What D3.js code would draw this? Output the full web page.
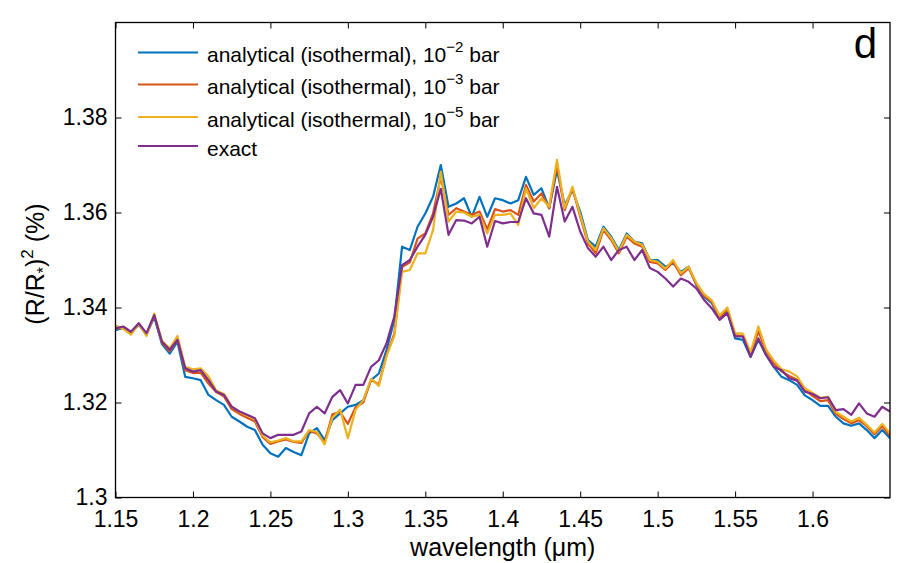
<!DOCTYPE html>
<html><head><meta charset="utf-8">
<script src="https://cdn.jsdelivr.net/npm/d3@7/dist/d3.min.js"></script>
<style>
html,body{margin:0;padding:0;background:#fff;}
svg text{font-family:"Liberation Sans",Arial,Helvetica,sans-serif;fill:#000;}
</style></head>
<body><svg id="c" width="905" height="563"></svg>
<script>
const wavelength = [1.150,1.155,1.160,1.165,1.170,1.175,1.180,1.185,1.190,1.195,1.200,1.205,1.210,1.215,1.220,1.225,1.230,1.235,1.240,1.245,1.250,1.255,1.260,1.265,1.270,
1.275,1.280,1.285,1.290,1.295,1.300,1.305,1.310,1.315,1.320,1.325,1.330,1.335,1.340,1.345,1.350,1.355,1.360,1.365,1.370,1.375,1.380,1.385,1.390,1.395,
1.400,1.405,1.410,1.415,1.420,1.425,1.430,1.435,1.440,1.445,1.450,1.455,1.460,1.465,1.470,1.475,1.480,1.485,1.490,1.495,1.500,1.505,1.510,1.515,1.520,
1.525,1.530,1.535,1.540,1.545,1.550,1.555,1.560,1.565,1.570,1.575,1.580,1.585,1.590,1.595,1.600,1.605,1.610,1.615,1.620,1.625,1.630,1.635,1.640,1.645,1.650];

const iso2bar = [1.3352,1.3357,1.3346,1.3364,1.3343,1.3380,1.3323,1.3303,1.3328,1.3254,1.3251,1.3247,1.3216,1.3205,1.3195,1.3170,1.3160,1.3149,1.3142,1.3111,1.3093,1.3086,1.3104,1.3096,1.3089,
1.3135,1.3146,1.3121,1.3163,1.3177,1.3191,1.3195,1.3205,1.3247,1.3261,1.3311,1.3374,1.3528,1.3521,1.3570,1.3598,1.3633,1.3700,1.3612,1.3619,1.3630,1.3591,1.3633,1.3591,1.3630,
1.3626,1.3619,1.3626,1.3675,1.3637,1.3651,1.3609,1.3689,1.3616,1.3647,1.3602,1.3542,1.3528,1.3570,1.3549,1.3521,1.3556,1.3539,1.3535,1.3500,1.3500,1.3486,1.3493,1.3475,1.3486,
1.3447,1.3423,1.3409,1.3377,1.3391,1.3335,1.3332,1.3296,1.3332,1.3300,1.3275,1.3254,1.3247,1.3237,1.3215,1.3205,1.3193,1.3193,1.3170,1.3156,1.3151,1.3156,1.3142,1.3125,1.3142,1.3125];

const iso3bar = [1.3355,1.3358,1.3346,1.3365,1.3344,1.3383,1.3326,1.3308,1.3333,1.3268,1.3262,1.3263,1.3240,1.3222,1.3213,1.3186,1.3176,1.3168,1.3160,1.3127,1.3113,1.3118,1.3122,1.3117,1.3115,
1.3140,1.3135,1.3115,1.3175,1.3180,1.3155,1.3190,1.3200,1.3248,1.3238,1.3300,1.3345,1.3485,1.3495,1.3545,1.3556,1.3598,1.3675,1.3595,1.3609,1.3602,1.3595,1.3602,1.3565,1.3607,
1.3602,1.3605,1.3595,1.3658,1.3623,1.3640,1.3609,1.3700,1.3605,1.3651,1.3591,1.3535,1.3514,1.3563,1.3542,1.3514,1.3549,1.3535,1.3528,1.3496,1.3493,1.3479,1.3496,1.3468,1.3483,
1.3449,1.3425,1.3412,1.3380,1.3396,1.3342,1.3340,1.3302,1.3350,1.3309,1.3283,1.3265,1.3256,1.3248,1.3226,1.3214,1.3203,1.3205,1.3176,1.3165,1.3156,1.3163,1.3150,1.3133,1.3150,1.3130];

const iso5bar = [1.3362,1.3355,1.3343,1.3366,1.3340,1.3387,1.3330,1.3314,1.3340,1.3275,1.3270,1.3272,1.3255,1.3225,1.3218,1.3192,1.3180,1.3172,1.3165,1.3130,1.3116,1.3120,1.3125,1.3118,1.3118,
1.3142,1.3138,1.3112,1.3168,1.3185,1.3125,1.3185,1.3205,1.3250,1.3235,1.3298,1.3340,1.3475,1.3479,1.3514,1.3514,1.3563,1.3686,1.3581,1.3602,1.3600,1.3591,1.3595,1.3556,1.3595,
1.3595,1.3598,1.3574,1.3651,1.3609,1.3630,1.3612,1.3711,1.3609,1.3654,1.3595,1.3539,1.3521,1.3567,1.3546,1.3518,1.3553,1.3539,1.3532,1.3500,1.3496,1.3482,1.3500,1.3472,1.3486,
1.3452,1.3428,1.3415,1.3383,1.3400,1.3346,1.3345,1.3306,1.3360,1.3312,1.3288,1.3270,1.3265,1.3255,1.3230,1.3220,1.3210,1.3212,1.3180,1.3170,1.3160,1.3168,1.3153,1.3137,1.3155,1.3135];

const exact = [1.3356,1.3360,1.3349,1.3367,1.3346,1.3384,1.3328,1.3311,1.3332,1.3272,1.3265,1.3268,1.3247,1.3223,1.3216,1.3191,1.3181,1.3174,1.3167,1.3135,1.3125,1.3132,1.3132,1.3132,1.3139,
1.3177,1.3191,1.3177,1.3212,1.3226,1.3198,1.3237,1.3237,1.3275,1.3289,1.3325,1.3381,1.3489,1.3500,1.3528,1.3553,1.3591,1.3650,1.3553,1.3584,1.3583,1.3577,1.3591,1.3528,1.3582,
1.3577,1.3580,1.3580,1.3630,1.3598,1.3595,1.3549,1.3654,1.3581,1.3612,1.3560,1.3525,1.3507,1.3528,1.3500,1.3521,1.3528,1.3500,1.3521,1.3483,1.3475,1.3461,1.3444,1.3461,1.3454,
1.3440,1.3416,1.3398,1.3374,1.3388,1.3339,1.3339,1.3296,1.3335,1.3300,1.3275,1.3268,1.3251,1.3246,1.3223,1.3218,1.3209,1.3211,1.3184,1.3186,1.3174,1.3198,1.3177,1.3170,1.3191,1.3181];

const xTicks = [1.15,1.2,1.25,1.3,1.35,1.4,1.45,1.5,1.55,1.6];
const yTicks = [1.3,1.32,1.34,1.36,1.38];
const legendPressures = ["\u22122","\u22123","\u22125",null];

const series = [
  {name:"iso2", values:iso2bar, color:"#0072BD"},
  {name:"iso3", values:iso3bar, color:"#D95319"},
  {name:"iso5", values:iso5bar, color:"#EDB120"},
  {name:"exact", values:exact, color:"#7E2F8E"}
];

const svg = d3.select("#c");
const L=115.5, R=890, T=22.5, B=497.5;
const x = d3.scaleLinear().domain([1.15,1.65]).range([L,R]);
const y = d3.scaleLinear().domain([1.3,1.4]).range([B,T]);

svg.append("defs").append("clipPath").attr("id","clip")
  .append("rect").attr("x",L).attr("y",T).attr("width",R-L).attr("height",B-T);

const line = d3.line().x((d,i)=>x(wavelength[i])).y(d=>y(d));
const g = svg.append("g").attr("clip-path","url(#clip)");
series.forEach(s=>{
  g.append("path").datum(s.values).attr("d",line)
   .attr("fill","none").attr("stroke",s.color).attr("stroke-width",2.2)
   .attr("stroke-linejoin","round");
});

const fmt = d=>String(+d.toFixed(2));
const fs = 23;
const ax = svg.append("g").attr("transform",`translate(0,${B})`)
  .call(d3.axisBottom(x).tickValues(xTicks).tickFormat(fmt).tickSizeInner(-6).tickSizeOuter(0).tickPadding(13));
const ay = svg.append("g").attr("transform",`translate(${L},0)`)
  .call(d3.axisLeft(y).tickValues(yTicks).tickFormat(fmt).tickSizeInner(-6).tickSizeOuter(0).tickPadding(8));
const axT = svg.append("g").attr("transform",`translate(0,${T})`)
  .call(d3.axisTop(x).tickValues(xTicks).tickFormat("").tickSizeInner(-6).tickSizeOuter(0));
const ayR = svg.append("g").attr("transform",`translate(${R},0)`)
  .call(d3.axisRight(y).tickValues(yTicks).tickFormat("").tickSizeInner(-6).tickSizeOuter(0));
[ax,ay,axT,ayR].forEach(a=>{
  a.select(".domain").remove();
  a.selectAll(".tick line").attr("stroke","#000").attr("stroke-width",1);
  a.selectAll(".tick text").attr("font-size",fs).attr("font-family","Liberation Sans, Arial, sans-serif").attr("fill","#000");
});
svg.append("rect").attr("x",L).attr("y",T).attr("width",R-L).attr("height",B-T)
  .attr("fill","none").attr("stroke","#000").attr("stroke-width",1.3);

// axis labels
const lfs = 25;
svg.append("text").attr("x",(L+R)/2).attr("y",556).attr("text-anchor","middle")
  .attr("font-size",lfs).text("wavelength (\u03BCm)");
const yl = svg.append("text").attr("transform",`translate(44,${(T+B)/2+4}) rotate(-90)`)
  .attr("text-anchor","middle").attr("font-size",lfs);
yl.append("tspan").text("(R/R");
yl.append("tspan").attr("font-size",16).attr("dy",5).text("*");
yl.append("tspan").attr("dy",-5).text(")");
yl.append("tspan").attr("font-size",17).attr("dy",-11).text("2");
yl.append("tspan").attr("dy",11).text(" (%)");

// panel letter
svg.append("text").attr("x",877).attr("y",58).attr("text-anchor","end")
  .attr("font-size",42).text("d");

// legend
const legY = [52.5, 84.5, 117, 146];
const lg = svg.append("g");
series.forEach((s,i)=>{
  lg.append("line").attr("x1",138).attr("x2",198).attr("y1",legY[i]).attr("y2",legY[i])
    .attr("stroke",s.color).attr("stroke-width",2.2);
  const t = lg.append("text").attr("x",207).attr("y",legY[i]+9.5).attr("font-size",21);
  if (legendPressures[i]) {
    t.append("tspan").text("analytical (isothermal), 10");
    t.append("tspan").attr("font-size",15).attr("dy",-10).text(legendPressures[i]);
    t.append("tspan").attr("dy",10).text(" bar");
  } else {
    t.text("exact");
  }
});
</script></body></html>
